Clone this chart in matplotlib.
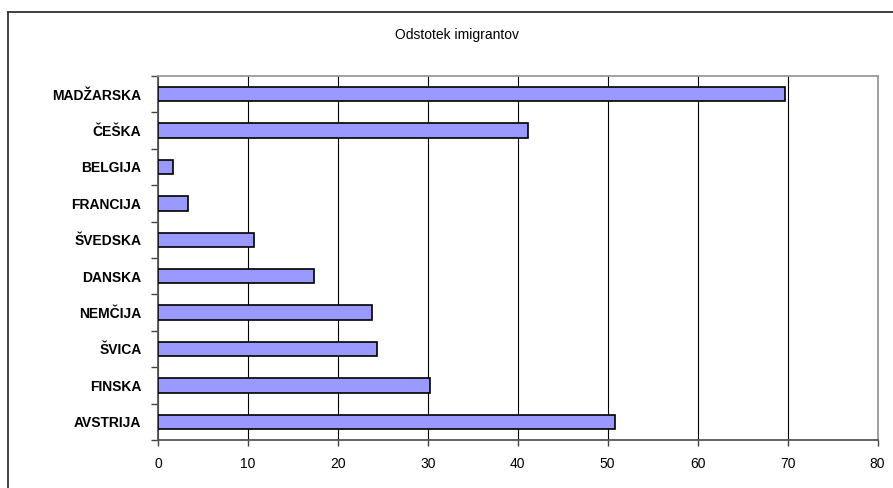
import numpy as np
import matplotlib.pyplot as plt
from matplotlib.lines import Line2D

# data (bottom to top)
countries = ["AVSTRIJA", "FINSKA", "ŠVICA", "NEMČIJA", "DANSKA",
             "ŠVEDSKA", "FRANCIJA", "BELGIJA", "ČEŠKA", "MADŽARSKA"]
percent = [50.8, 30.2, 24.4, 23.8, 17.4, 10.7, 3.3, 1.7, 41.1, 69.7]
x_ticks = [0, 10, 20, 30, 40, 50, 60, 70, 80]

plt.rcParams['font.family'] = ['Liberation Sans', 'DejaVu Sans']

fig = plt.figure(figsize=(8.93, 4.88), dpi=100)
ax = fig.add_axes([158 / 893, 1 - 440 / 488, (877.5 - 158) / 893, (440 - 76) / 488])

y = np.arange(len(countries))
ax.barh(y, percent, height=0.4, color="#9999FF", edgecolor="black", linewidth=1.2, zorder=3)

ax.set_xlim(0, 80)
ax.set_ylim(-0.5, len(countries) - 0.5)
ax.set_xticks(x_ticks)
ax.set_xticklabels([str(v) for v in x_ticks], fontsize=10)
ax.set_yticks(y)
ax.set_yticklabels(countries, fontsize=10, fontweight="bold")
ax.tick_params(axis="y", length=0, pad=12)
ax.set_yticks(np.arange(-0.5, len(countries), 1), minor=True)
ax.tick_params(axis="y", which="minor", length=5, color="#444444", width=1)
ax.tick_params(axis="x", length=4, color="#444444", width=1, pad=8)

ax.grid(axis="x", color="black", linewidth=0.8, zorder=0)
for s in ["left", "bottom"]:
    ax.spines[s].set_color("#555555")
    ax.spines[s].set_linewidth(1.3)
for s in ["top", "right"]:
    ax.spines[s].set_color("#999999")
    ax.spines[s].set_linewidth(1.3)

fig.text(457 / 893, 1 - 35 / 488, "Odstotek imigrantov", ha="center", va="center", fontsize=10)

# outer chart border (top and left visible)
fig.add_artist(Line2D([8 / 893, 1.0], [1 - 12 / 488, 1 - 12 / 488], color="#333333", linewidth=1.3))
fig.add_artist(Line2D([8 / 893, 8 / 893], [0, 1 - 12 / 488], color="#333333", linewidth=1.3))

fig.savefig("out.png", dpi=100)
plt.close(fig)
